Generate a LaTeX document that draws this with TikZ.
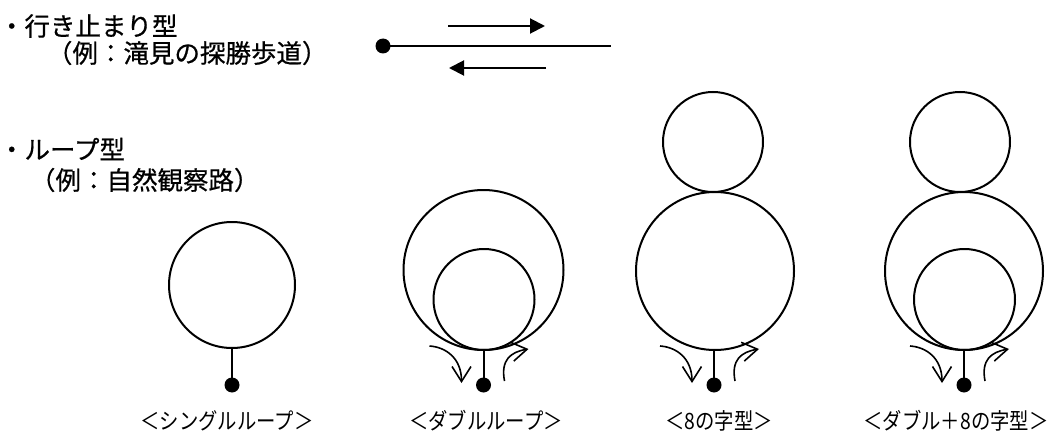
\documentclass[tikz,border=0pt]{standalone}
\usepackage{fontspec}
\setmainfont{Noto Sans CJK JP}
\newfontfamily\jphead[FakeBold=0.6]{Noto Sans CJK JP}
\newfontfamily\jplabel[FakeStretch=0.86]{Noto Sans CJK JP}
\usetikzlibrary{arrows.meta}
\begin{document}
\begin{tikzpicture}[x=1pt,y=-1pt,line width=2pt,
  loopc/.style={circle,draw,inner sep=0pt},
  enddot/.style={circle,fill,inner sep=0pt,minimum size=15pt},
  flow/.style={line width=1.6pt,-{Straight Barb[length=15pt,width=19pt]}},
  pointer/.style={line width=2pt,-{Triangle[length=15pt,width=15pt]}},
  head/.style={font=\jphead\fontsize{25.5}{29}\selectfont,anchor=west,inner sep=0pt},
  lbl/.style={font=\jplabel\fontsize{22.5}{26}\selectfont,inner sep=0pt},
  turnarrows/.pic={
    \draw[flow] (-54,-4) .. controls (-38,-3) and (-22,8) .. (-22,33);
    \draw[flow] (21,31) .. controls (17,10) and (27,2) .. (45,-1);
  }]
\useasboundingbox (0,0) rectangle (1061,436);

% headings
\node[head] (h1) at (-2,26) {・行き止まり型};
\node[head] (h2) at (46,53) {（例：滝見の探勝歩道）};
\node[head] (h3) at (-2,149) {・ループ型};
\node[head] (h4) at (29,180) {（例：自然観察路）};

% dead-end route
\node[enddot] (dd) at (383,46) {};
\coordinate (de) at (611,46);
\draw (dd.center) -- (de);
\coordinate (t1) at (448,26);
\coordinate (t2) at (545,26);
\draw[pointer] (t1) -- (t2);
\coordinate (b1) at (546,68);
\coordinate (b2) at (449,68);
\draw[pointer] (b1) -- (b2);

% single loop
\node[loopc,minimum size=126pt] (s1) at (232,285) {};
\node[enddot] (sd) at (232,385) {};
\draw (s1.south) -- (sd.center);
\node[lbl] (sl) at (227,421) {＜シングルループ＞};

% double loop
\node[loopc,minimum size=160pt] (do) at (483.5,270) {};
\node[loopc,minimum size=101pt] (di) at (484,299.5) {};
\node[enddot] (dd2) at (483.5,385) {};
\draw (483.5,350) coordinate (dst) -- (dd2.center);
\pic at (dst) {turnarrows};
\node[lbl] (dl) at (486,421) {＜ダブルループ＞};

% figure eight
\node[loopc,minimum size=100pt] (et) at (713,142) {};
\node[loopc,minimum size=158pt] (eb) at (715,271) {};
\node[enddot] (ed) at (714,385) {};
\draw (714,350) coordinate (est) -- (ed.center);
\pic at (est) {turnarrows};
\node[lbl] (el) at (719,421) {＜8の字型＞};

% double + figure eight
\node[loopc,minimum size=100pt] (ft) at (960,142) {};
\node[loopc,minimum size=158pt] (fo) at (964,271) {};
\node[loopc,minimum size=101pt] (fi) at (964.5,299.5) {};
\node[enddot] (fd) at (964,385) {};
\draw (964,350) coordinate (fst) -- (fd.center);
\pic at (fst) {turnarrows};
\node[lbl] (fl) at (956,421) {＜ダブル＋8の字型＞};
\end{tikzpicture}
\end{document}
